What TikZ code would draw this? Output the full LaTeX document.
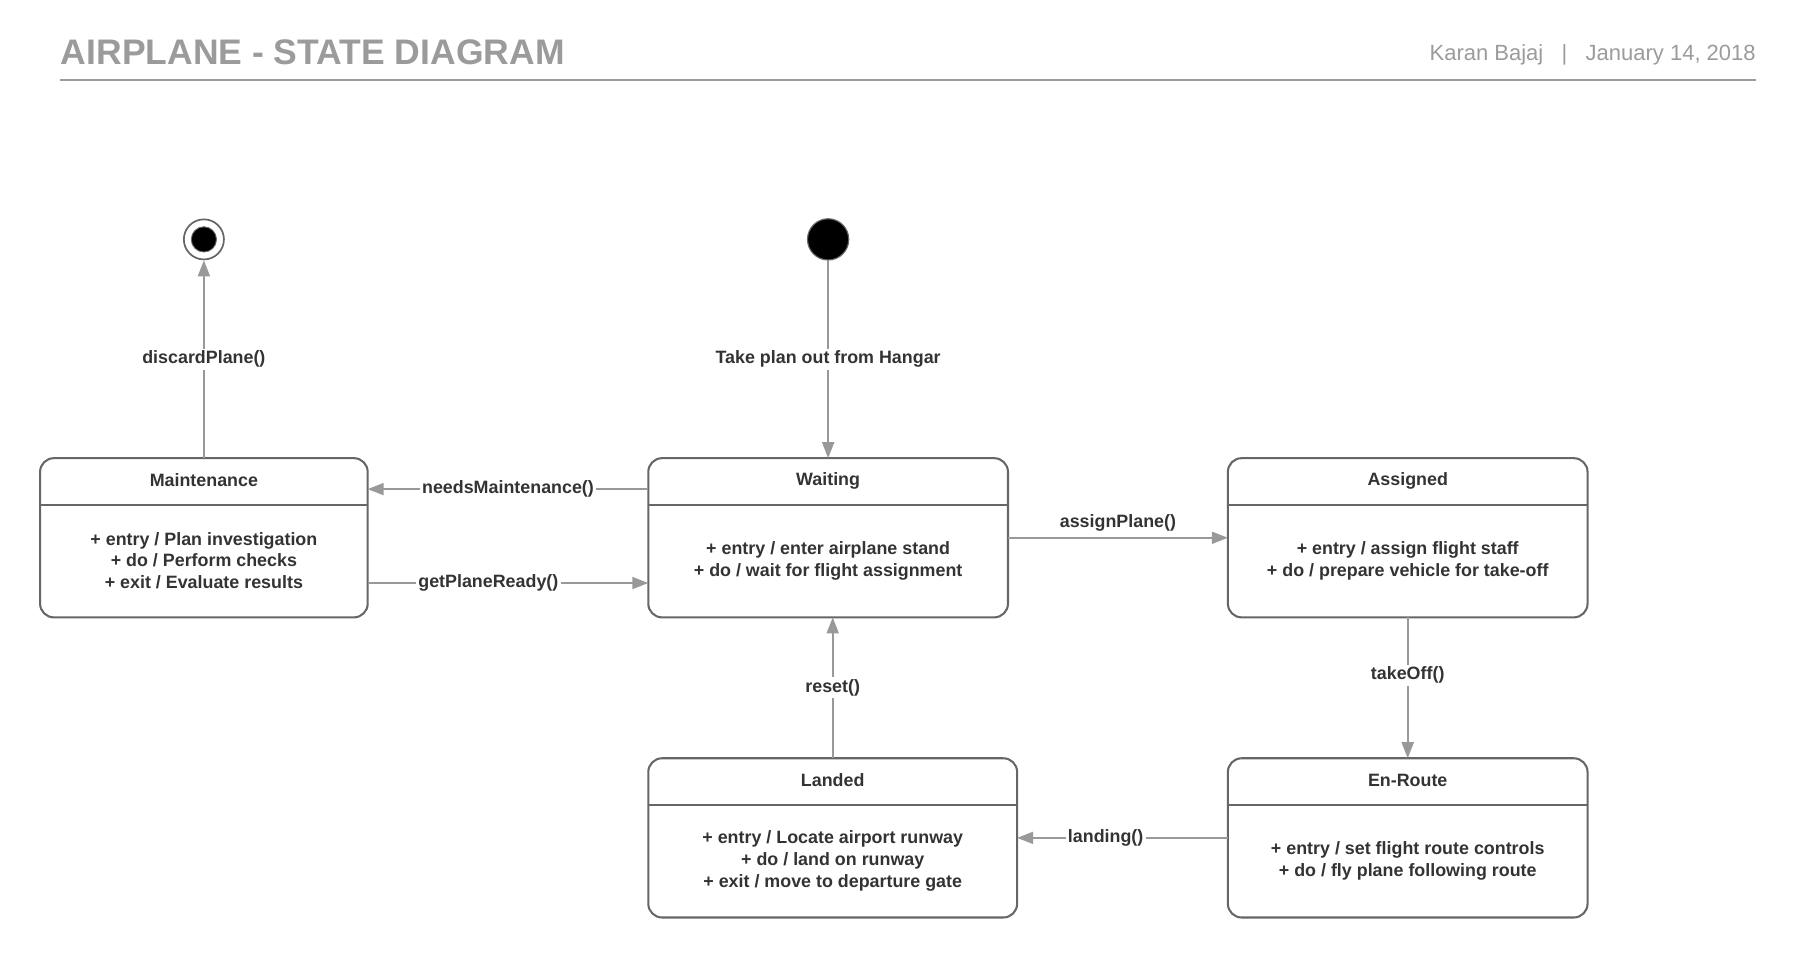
\documentclass[tikz,border=0pt]{standalone}
\usepackage{fontspec}
\setmainfont{Liberation Sans}
\usetikzlibrary{arrows.meta}
\definecolor{headgray}{HTML}{9B9B9B}
\definecolor{boxgray}{HTML}{666666}
\definecolor{linegray}{HTML}{999999}
\definecolor{txtgray}{HTML}{333333}

\newcommand{\statenode}[6]{%
  \node[statebox, minimum width=#4] (#1) at (#2,#3) {};
  \draw[divider] ([yshift=-41pt]#1.north west) -- ([yshift=-41pt]#1.north east);
  \node[boxtext] (#1-title) at ([yshift=-19.5pt]#1.north) {#5};
  \node[boxtext] (#1-body) at ([yshift=-89.5pt]#1.north) {#6};
}

\begin{document}
\begin{tikzpicture}[x=1pt, y=-1pt,
    statebox/.style={draw=boxgray, line width=1.8pt, rounded corners=12pt,
      minimum height=139pt, inner sep=0pt, outer sep=0pt},
    divider/.style={draw=boxgray, line width=1.8pt},
    boxtext/.style={font=\fontsize{15.6}{19}\selectfont\bfseries, text=txtgray, align=center},
    trans/.style={draw=linegray, line width=1.6pt, -{Triangle[length=14pt,width=10.5pt]}},
    lbl/.style={font=\fontsize{15.6}{19}\selectfont\bfseries, text=txtgray, fill=white, inner sep=2pt}]
    \useasboundingbox (0,0) rectangle (1568,836.4);

    % header
    \node[anchor=base west, inner sep=0pt, text=headgray,
      font=\fontsize{31}{36}\selectfont\bfseries] (title) at (53,56) {AIRPLANE - STATE DIAGRAM};
    \node[anchor=base east, inner sep=0pt, text=headgray,
      font=\fontsize{19.2}{23}\selectfont] (byline) at (1533,53)
      {Karan Bajaj\hspace{16pt}|\hspace{16pt}January 14, 2018};
    \draw[headgray, line width=2pt] (52,70) -- (1533,70);

    % pseudo states
    \node[circle, fill=black, draw=boxgray, line width=1pt, minimum size=36pt, inner sep=0pt] (initial) at (723,209) {};
    \node[circle, draw=boxgray, line width=1.5pt, minimum size=35pt, inner sep=0pt] (final) at (178,209) {};
    \node[circle, fill=black, draw=boxgray, line width=0.8pt, minimum size=22pt, inner sep=0pt] (finaldot) at (final) {};

    % states
    \statenode{maint}{178}{469.5}{286pt}{Maintenance}{+ entry / Plan investigation\\+ do / Perform checks\\+ exit / Evaluate results}
    \statenode{waiting}{723}{469.5}{314pt}{Waiting}{+ entry / enter airplane stand\\+ do / wait for flight assignment}
    \statenode{assigned}{1229}{469.5}{314pt}{Assigned}{+ entry / assign flight staff\\+ do / prepare vehicle for take-off}
    \statenode{landed}{727}{731.5}{322pt}{Landed}{+ entry / Locate airport runway\\+ do / land on runway\\+ exit / move to departure gate}
    \statenode{enroute}{1229}{731.5}{314pt}{En-Route}{+ entry / set flight route controls\\+ do / fly plane following route}

    % transitions
    \draw[trans] (maint.north) -- node[lbl] {discardPlane()} (final);
    \draw[trans] (initial) -- node[lbl] {Take plan out from Hangar} (waiting.north);
    \draw[trans] ([yshift=42.5pt]waiting.west) -- node[lbl] {needsMaintenance()} ([yshift=42.5pt]maint.east);
    \draw[trans] ([yshift=-39.5pt]maint.east) -- node[lbl, pos=0.43] {getPlaneReady()} ([yshift=-39.5pt]waiting.west);
    \draw[trans] (waiting.east) -- node[lbl, fill=none, above, yshift=3pt] {assignPlane()} (assigned.west);
    \draw[trans] (assigned.south) -- node[lbl, pos=0.41] {takeOff()} (enroute.north);
    \draw[trans] (enroute.west) -- node[lbl, pos=0.58] {landing()} (landed.east);
    \draw[trans] (landed.north) -- node[lbl] {reset()} (waiting.south -| landed.north);
\end{tikzpicture}
\end{document}
